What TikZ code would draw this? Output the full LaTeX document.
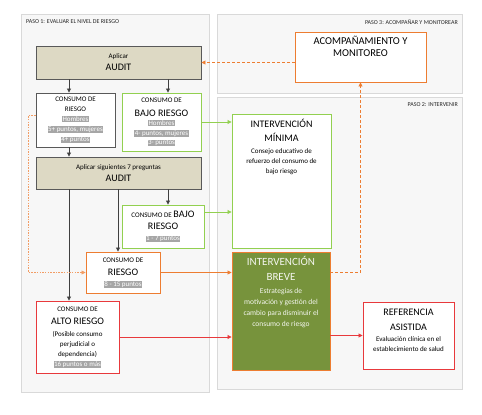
\documentclass[tikz,border=0pt]{standalone}
\usepackage{fontspec}
\setmainfont{Carlito}
\usetikzlibrary{arrows.meta, calc, positioning}

\definecolor{panelfill}{HTML}{F7F7F7}
\definecolor{panelline}{HTML}{D9D9D9}
\definecolor{boxgray}{HTML}{595959}
\definecolor{linkgray}{HTML}{404040}
\definecolor{auditfill}{HTML}{DDD9C4}
\definecolor{lime}{HTML}{92D050}
\definecolor{orangeline}{HTML}{ED7D31}
\definecolor{redline}{HTML}{E8393C}
\definecolor{darkgreen}{HTML}{77933C}
\definecolor{hlgray}{HTML}{A6A6A6}

\newcommand{\smalltxt}{\fontsize{7}{10}\selectfont}
\newcommand{\tighttxt}{\fontsize{7}{9.5}\selectfont}
\newcommand{\headtxt}{\fontsize{10}{12.5}\selectfont}
\newcommand{\hlt}[1]{{\setlength{\fboxsep}{0.4pt}\colorbox{hlgray}{\textcolor{white}{#1}}}}

\begin{document}
\begin{tikzpicture}[x=1pt, y=-1pt,% pixel grid, y going down
           > = {Triangle[length=4pt, width=4pt]},
   panel/.style = {draw=panelline, fill=panelfill, line width=0.8pt},
paso lbl/.style = {font=\fontsize{6}{7}\selectfont, inner sep=0pt, text=black!85},
     box/.style = {draw, line width=0.9pt, fill=white, align=center,
                   inner sep=0pt, font=\smalltxt},
 graybox/.style = {box, draw=boxgray},
greenbox/.style = {box, draw=lime},
orangebox/.style = {box, draw=orangeline},
  redbox/.style = {box, draw=redline},
auditbox/.style = {box, draw=boxgray, fill=auditfill},
brevebox/.style = {box, draw=orangeline, fill=darkgreen},
    btxt/.style = {align=center, font=\smalltxt, inner sep=0pt},
    link/.style = {->, line width=0.8pt, draw=linkgray},
dash link/.style = {->, line width=0.8pt, draw=orangeline,
                   dash pattern=on 3pt off 2pt},
 dot link/.style = {->, line width=0.7pt, draw=orangeline!75,
                   dash pattern=on 1.5pt off 1.2pt}
                    ]
	\useasboundingbox (0,0) rectangle (482,415);

	% the three steps
	\draw[panel] (21,14) rectangle (209,392);
	\draw[panel] (217,14) rectangle (462,93);
	\draw[panel] (217,97) rectangle (462,389);
	\node[paso lbl, anchor=west] (paso1) at (26,22) {PASO 1: EVALUAR EL NIVEL DE RIESGO};
	\node[paso lbl, anchor=east] (paso3) at (458,22) {PASO 3: ACOMPAÑAR Y MONITOREAR};
	\node[paso lbl, anchor=east] (paso2) at (458,105) {PASO 2: INTERVENIR};

	% paso 1
	\node[auditbox, minimum width=165, minimum height=33] (audita) at (118.5,62.5)
		{Aplicar\\[2pt]{\headtxt AUDIT}};
	\node[graybox, font=\smalltxt, minimum width=79, minimum height=54] (riesgoa) at (75.5,120)
		{CONSUMO DE\\RIESGO\\\hlt{Hombres}\\\hlt{5+ puntos, mujeres}\\\hlt{4+ puntos}};
	\node[greenbox, font=\tighttxt, minimum width=79, minimum height=58] (bajoa) at (161.5,122)
		{CONSUMO DE\\[4pt]{\headtxt BAJO RIESGO}\\\hlt{Hombres}\\\hlt{4- puntos, mujeres}\\\hlt{3- puntos}};
	\node[auditbox, minimum width=165, minimum height=32] (auditb) at (118.5,173)
		{Aplicar siguientes 7 preguntas\\[2pt]{\headtxt AUDIT}};
	\node[greenbox, minimum width=82, minimum height=43] (bajob) at (163,226.5)
		{CONSUMO DE {\headtxt BAJO}\\[2pt]{\headtxt RIESGO}\\[1pt]\hlt{1 - 7 puntos}};
	\node[orangebox, minimum width=74, minimum height=41] (riesgob) at (123,272.5)
		{CONSUMO DE\\[3pt]{\headtxt RIESGO}\\[1pt]\hlt{8 - 15 puntos}};
	\node[redbox, minimum width=83, minimum height=72] (alto) at (77.5,337)
		{CONSUMO DE\\[3pt]{\headtxt ALTO RIESGO}\\[2pt](Posible consumo\\perjudicial o\\dependencia)\\\hlt{16 puntos o más}};

	% paso 2 and 3
	\node[orangebox, minimum width=131, minimum height=50] (acomp) at (360.5,57) {};
	\node[btxt, below=4pt of acomp.north, font=\fontsize{10.5}{12.5}\selectfont] (acomptxt)
		{ACOMPAÑAMIENTO Y\\MONITOREO};
	\node[greenbox, minimum width=99, minimum height=134] (minima) at (281.5,181) {};
	\node[btxt, below=5pt of minima.north] (minimatxt)
		{{\headtxt INTERVENCIÓN}\\[4pt]{\headtxt MÍNIMA}\\[2pt]Consejo educativo de\\refuerzo del consumo de\\bajo riesgo};
	\node[brevebox, minimum width=98, minimum height=118] (breve) at (281,311) {};
	\node[btxt, below=5pt of breve.north, text=white!92!darkgreen, font=\fontsize{7.5}{11}\selectfont] (brevetxt)
		{{\fontsize{11}{13}\selectfont INTERVENCIÓN}\\[4pt]{\fontsize{11}{13}\selectfont BREVE}\\[2pt]Estrategias de\\motivación y gestión del\\cambio para disminuir el\\consumo de riesgo};
	\node[redbox, minimum width=91, minimum height=67] (referencia) at (408.5,335.5) {};
	\node[btxt, below=7pt of referencia.north] (referenciatxt)
		{{\headtxt REFERENCIA}\\[5pt]{\headtxt ASISTIDA}\\[1pt]Evaluación clínica en el\\establecimiento de salud};

	% lanes of the arrows
	\coordinate (laneA) at (69,0);
	\coordinate (laneB) at (118,0);
	\coordinate (laneC) at (168,0);
	\coordinate (rowB) at (0,212);

	\draw[link] (audita.south -| laneA) -- (riesgoa.north -| laneA);
	\draw[link] (audita.south -| laneC) -- (bajoa.north -| laneC);
	\draw[link] (riesgoa.south -| laneA) -- (auditb.north -| laneA);
	\draw[link] (auditb.south -| laneC) -- (bajob.north -| laneC);
	\draw[link] (auditb.south -| laneB) -- (riesgob.north -| laneB);
	\draw[link] (auditb.south -| laneA) -- (alto.north -| laneA);
	\draw[link, draw=lime] (bajoa.east) -- (bajoa.east -| minima.west);
	\draw[link, draw=lime] (rowB -| bajob.east) -- (rowB -| minima.west);
	\draw[link, draw=orangeline] (riesgob.east) -- (riesgob.east -| breve.west);
	\draw[link, draw=redline] (alto.east) -- (alto.east -| breve.west);
	\draw[link, draw=redline] (referencia.west -| breve.east) -- (referencia.west);

	% seguimiento
	\draw[dash link] (riesgob.east -| breve.east) -| (acomp.south);
	\draw[dash link] (audita.east -| acomp.west) -- (audita.east);
	\draw[dot link] ([yshift=5pt]riesgoa.west) -- ++(-7,0) |- (riesgob.west);
\end{tikzpicture}
\end{document}
